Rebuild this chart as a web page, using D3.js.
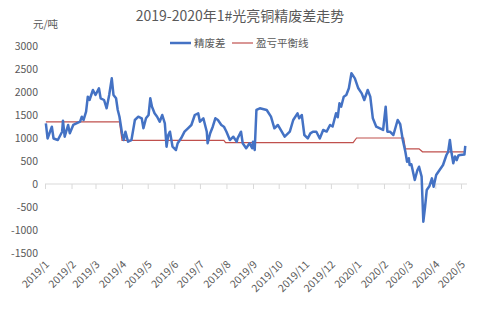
<!DOCTYPE html>
<html>
<head>
<meta charset="utf-8">
<script src="https://cdn.jsdelivr.net/npm/d3@7"></script>
<style>
  body { margin: 0; background: #fff; }
  svg { font-family: "Noto Sans CJK SC", "Noto Sans", sans-serif; }
</style>
</head>
<body>
<svg id="chart" width="480" height="315"></svg>
<script>
// 精废差 (blue)
const spreadDates = [
  "2019-01-02","2019-01-04","2019-01-09","2019-01-11","2019-01-16","2019-01-21","2019-01-22","2019-01-24","2019-01-28","2019-01-30",
  "2019-02-03","2019-02-11","2019-02-13","2019-02-15","2019-02-18","2019-02-20","2019-02-22","2019-02-26","2019-03-01","2019-03-05",
  "2019-03-07","2019-03-11","2019-03-14","2019-03-17","2019-03-20","2019-03-22","2019-03-25","2019-03-27","2019-03-29","2019-04-01",
  "2019-04-03","2019-04-05","2019-04-08","2019-04-12","2019-04-16","2019-04-20","2019-04-24","2019-04-26","2019-04-29","2019-05-02",
  "2019-05-04","2019-05-06","2019-05-09","2019-05-12","2019-05-15","2019-05-18","2019-05-21","2019-05-23","2019-05-25","2019-05-27",
  "2019-05-30","2019-06-03","2019-06-05","2019-06-09","2019-06-13","2019-06-17","2019-06-21","2019-06-25","2019-06-29","2019-07-01",
  "2019-07-05","2019-07-09","2019-07-10","2019-07-13","2019-07-16","2019-07-19","2019-07-22","2019-07-26","2019-07-29","2019-08-01",
  "2019-08-05","2019-08-09","2019-08-13","2019-08-14","2019-08-18","2019-08-20","2019-08-24","2019-08-28","2019-08-31","2019-09-01",
  "2019-09-03","2019-09-05","2019-09-09","2019-09-17","2019-09-22","2019-09-26","2019-09-30","2019-10-08","2019-10-14","2019-10-18",
  "2019-10-23","2019-10-25","2019-10-28","2019-10-31","2019-11-04","2019-11-07","2019-11-10","2019-11-14","2019-11-18","2019-11-22",
  "2019-11-26","2019-11-30","2019-12-03","2019-12-07","2019-12-09","2019-12-11","2019-12-13","2019-12-16","2019-12-19","2019-12-22",
  "2019-12-25","2019-12-29","2020-01-02","2020-01-06","2020-01-09","2020-01-13","2020-01-16","2020-01-19","2020-01-23","2020-01-31",
  "2020-02-03","2020-02-05","2020-02-08","2020-02-12","2020-02-17","2020-02-20","2020-02-23","2020-02-26","2020-02-28","2020-03-01",
  "2020-03-02","2020-03-04","2020-03-08","2020-03-11","2020-03-13","2020-03-16","2020-03-18","2020-03-20","2020-03-22","2020-03-25",
  "2020-03-28","2020-03-30","2020-04-02","2020-04-06","2020-04-10","2020-04-14","2020-04-16","2020-04-18","2020-04-20","2020-04-22",
  "2020-04-24","2020-04-26","2020-04-28","2020-04-30","2020-05-05","2020-05-06"
];
const spreadValues = [
  1320, 990, 1245, 990, 956, 1137, 1376, 1028, 1283, 1102,
  1283, 1354, 1463, 1391, 1572, 1898, 1826, 2043, 1935, 2080,
  1863, 1826, 1646, 1935, 2297, 1935, 1863, 1609, 1463, 1102,
  956, 1137, 920, 956, 1391, 1463, 1428, 1211, 1428, 1500,
  1863, 1681, 1537, 1463, 1354, 1500, 1320, 811, 1065, 1137,
  811, 739, 885, 993, 1137, 1211, 1283, 1500, 1537, 1354,
  1428, 1137, 885, 1102, 1246, 1428, 1391, 1283, 1246, 1137,
  956, 1028, 920, 993, 1137, 885, 776, 885, 776, 920,
  739, 1609, 1645, 1609, 1463, 1211, 1283, 1028, 1137, 1391,
  1537, 1428, 1500, 1065, 993, 1100, 1137, 1137, 990, 1174,
  1140, 1283, 1250, 1537, 1450, 1754, 1680, 1898, 1935, 2080,
  2406, 2297, 2080, 1971, 1826, 2043, 1900, 1428, 1246, 1174,
  1681, 1137, 1137, 1065, 1391, 1300, 956, 700, 485, 560,
  413, 430, 87, 300, 376, 159, -819, -500, -130, -50,
  123, -58, 196, 304, 413, 630, 700, 956, 667, 450,
  600, 520, 620, 630, 640, 830
];

// 盈亏平衡线 (red)
const breakevenDates = [
  "2019-01-02","2019-03-29","2019-04-01","2019-07-29","2019-07-31","2019-12-27",
  "2019-12-31","2020-02-24","2020-02-26","2020-03-13","2020-03-17","2020-05-06"
];
const breakevenValues = [1350, 1350, 950, 950, 900, 900, 1000, 1000, 765, 765, 700, 700];

const yTicks = [3000, 2500, 2000, 1500, 1000, 500, 0, -500, -1000, -1500];
const monthTicks = [
  "2019-01-01","2019-02-01","2019-03-01","2019-04-01","2019-05-01","2019-06-01",
  "2019-07-01","2019-08-01","2019-09-01","2019-10-01","2019-11-01","2019-12-01",
  "2020-01-01","2020-02-01","2020-03-01","2020-04-01","2020-05-01"
];

const parse = d3.timeParse("%Y-%m-%d");
const fmt = d3.timeFormat("%Y/%-m");

const spread = spreadDates.map((d, i) => ({date: parse(d), value: spreadValues[i]}));
const breakeven = breakevenDates.map((d, i) => ({date: parse(d), value: breakevenValues[i]}));

const svg = d3.select("#chart");
const textColor = "#595959";

const x = d3.scaleTime()
    .domain([parse("2019-01-01"), parse("2020-05-01")])
    .range([45, 461]);
const y = d3.scaleLinear().domain([-1500, 3000]).range([253, 46]);

// title
svg.append("text")
    .attr("x", 240).attr("y", 21)
    .attr("text-anchor", "middle")
    .attr("font-size", 14)
    .attr("fill", textColor)
    .text("2019-2020年1#光亮铜精废差走势");

// unit
svg.append("text")
    .attr("x", 33).attr("y", 28)
    .attr("font-size", 10.5)
    .attr("fill", textColor)
    .text("元/吨");

// y axis labels
svg.append("g")
    .selectAll("text")
    .data(yTicks)
    .enter().append("text")
    .attr("x", 38)
    .attr("y", d => y(d))
    .attr("dy", "0.35em")
    .attr("text-anchor", "end")
    .attr("font-size", 10.5)
    .attr("fill", textColor)
    .text(d => d);

// x axis at zero
const xAxis = svg.append("g")
    .attr("transform", "translate(0," + y(0) + ")")
    .call(d3.axisBottom(x).tickValues(monthTicks.map(parse)).tickSize(5).tickFormat(""));
xAxis.select(".domain").attr("stroke", "#d9d9d9").attr("d", "M45,0H467");
xAxis.selectAll(".tick line").attr("stroke", "#d9d9d9");

// month labels at bottom
svg.append("g")
    .selectAll("text")
    .data(monthTicks.map(parse))
    .enter().append("text")
    .attr("transform", d => "translate(" + (x(d) + 5) + ",265) rotate(-45)")
    .attr("text-anchor", "end")
    .attr("font-size", 10.5)
    .attr("fill", textColor)
    .text(d => fmt(d));

const line = d3.line().x(d => x(d.date)).y(d => y(d.value));

svg.append("path")
    .datum(breakeven)
    .attr("fill", "none")
    .attr("stroke", "#C0504D")
    .attr("stroke-width", 1.2)
    .attr("d", line);

svg.append("path")
    .datum(spread)
    .attr("fill", "none")
    .attr("stroke", "#4472C4")
    .attr("stroke-width", 2.5)
    .attr("stroke-linejoin", "round")
    .attr("d", line);

// legend
const legend = svg.append("g").attr("font-size", 10.5).attr("fill", textColor);
const legendItems = [
  {name: "精废差", color: "#4472C4", width: 2.5, x: 170},
  {name: "盈亏平衡线", color: "#C0504D", width: 1.2, x: 232}
];
legendItems.forEach(item => {
  legend.append("line")
      .attr("x1", item.x).attr("x2", item.x + 21)
      .attr("y1", 43).attr("y2", 43)
      .attr("stroke", item.color)
      .attr("stroke-width", item.width);
  legend.append("text")
      .attr("x", item.x + 24).attr("y", 43)
      .attr("dy", "0.35em")
      .text(item.name);
});
</script>
</body>
</html>
